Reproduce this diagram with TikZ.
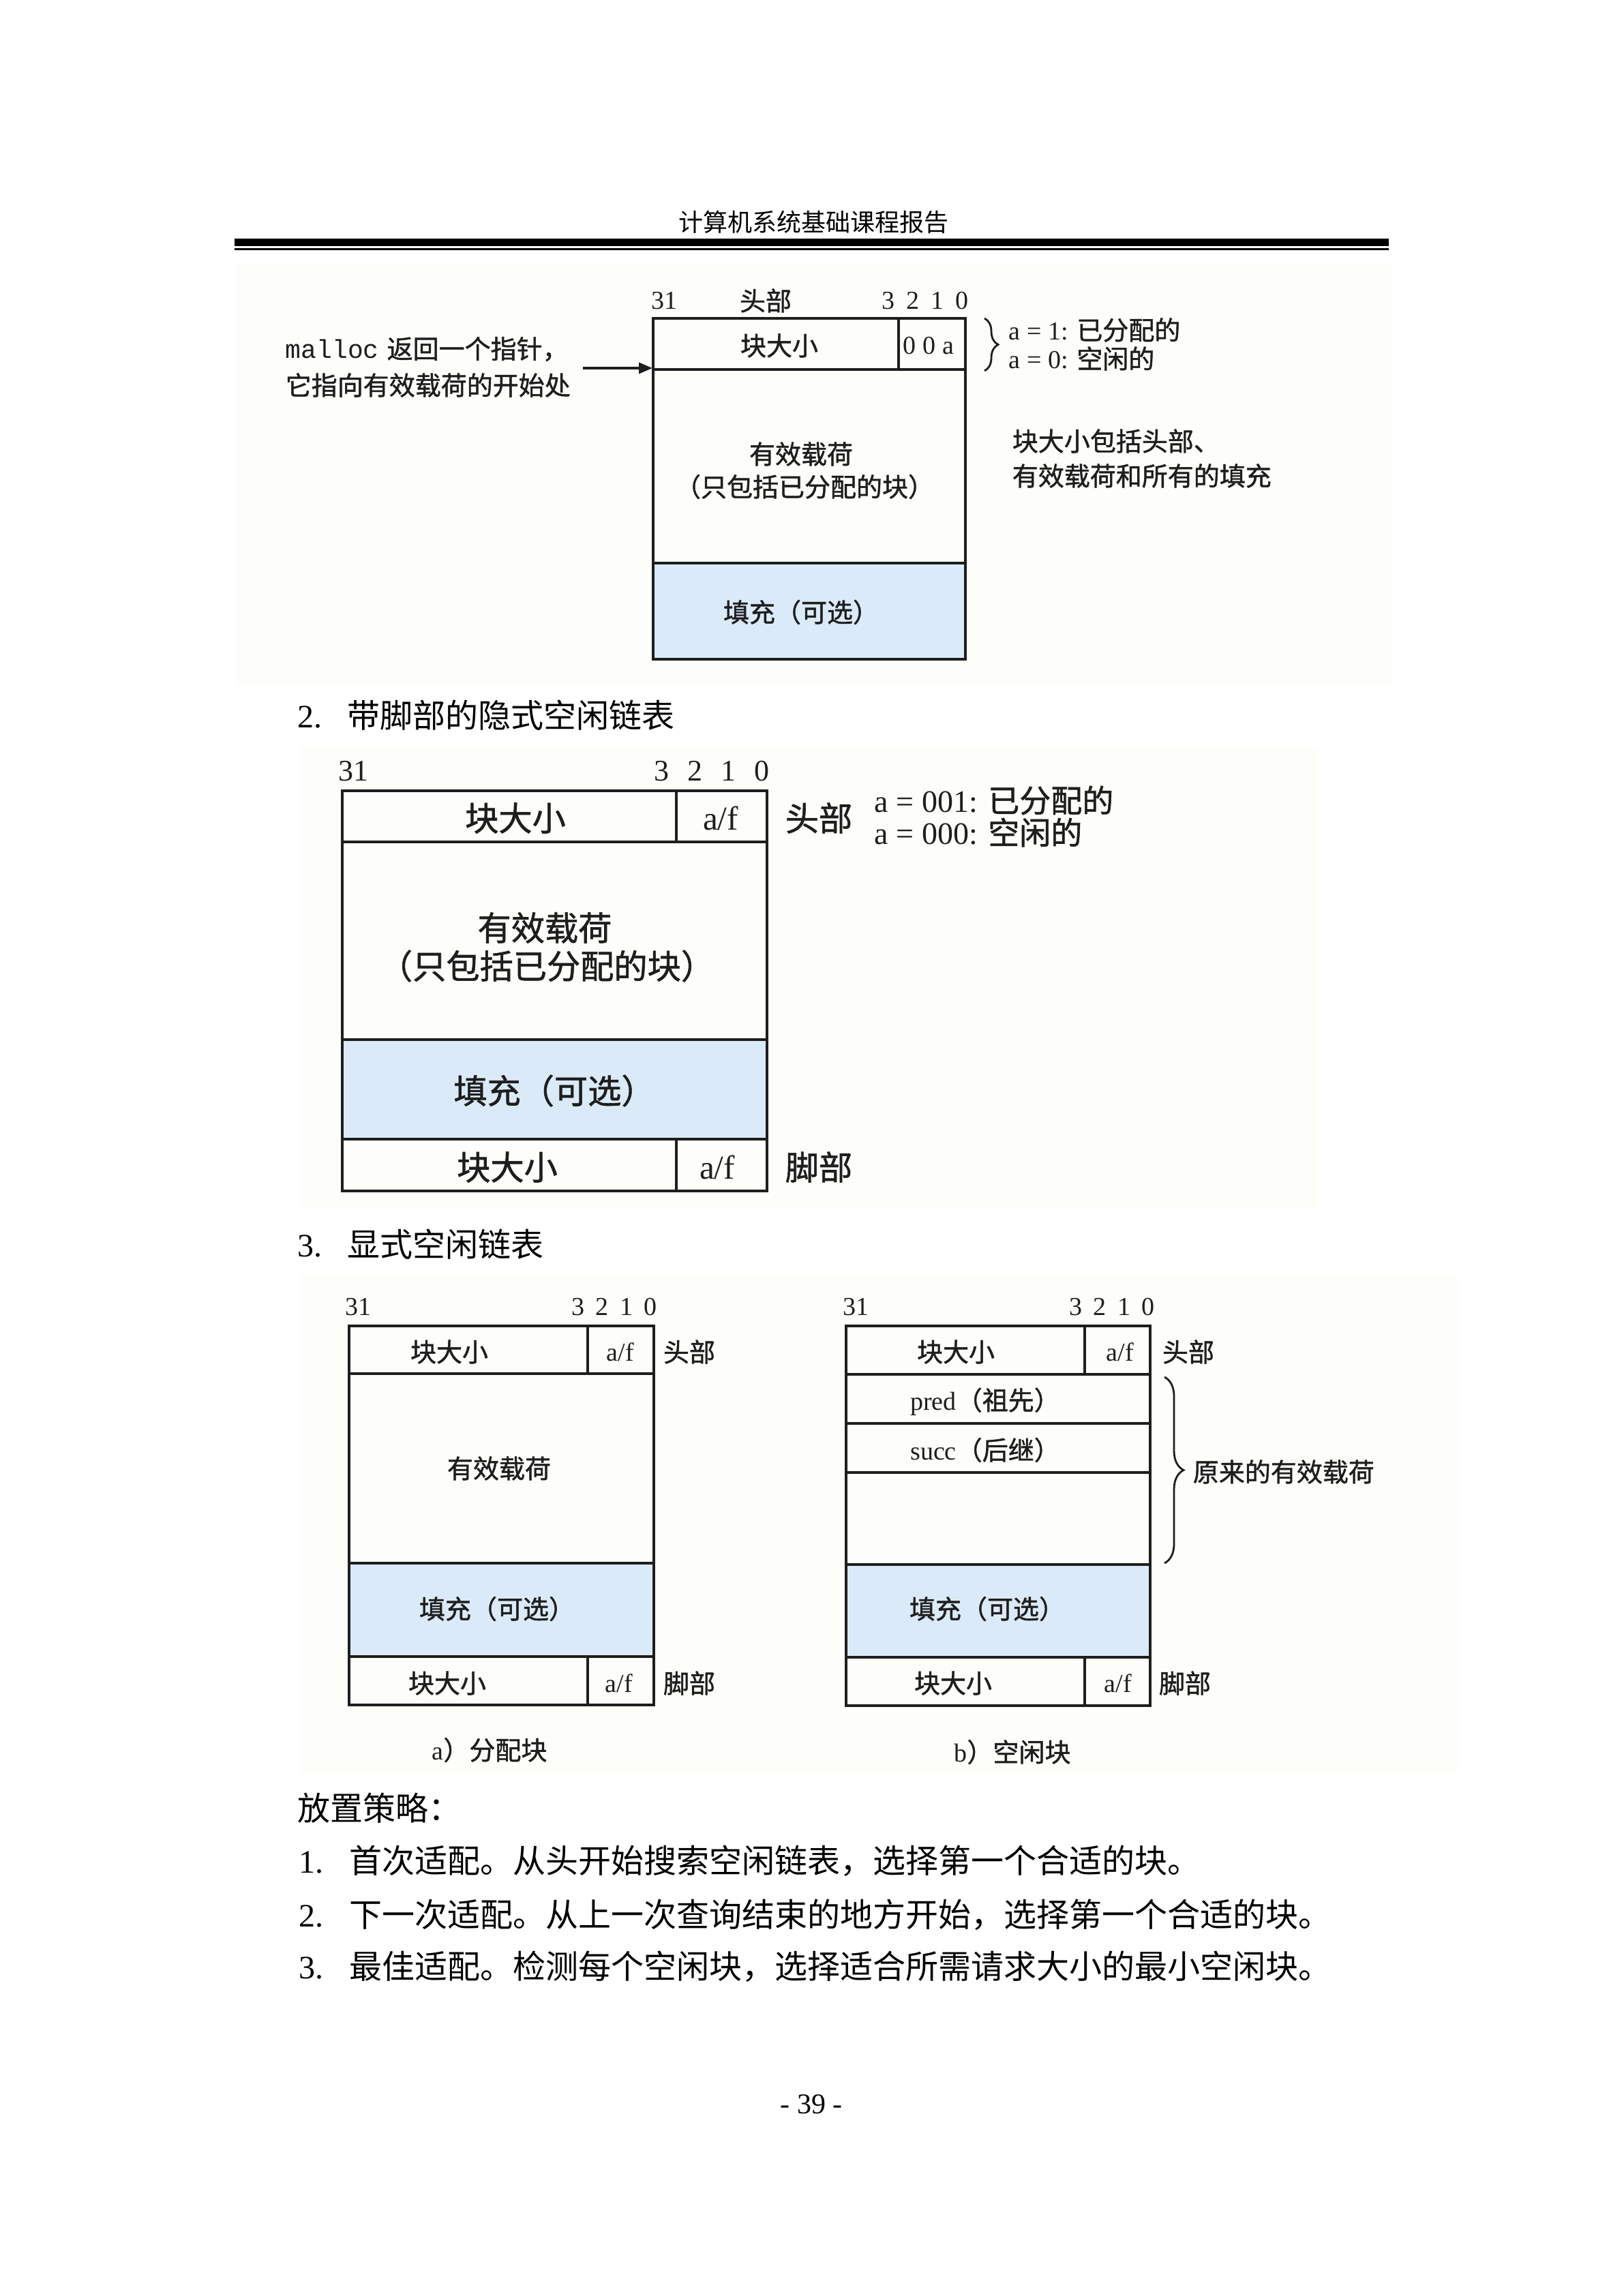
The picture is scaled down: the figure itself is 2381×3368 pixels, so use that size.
\documentclass[tikz,border=0pt]{standalone}
\usepackage{fontspec}
\setmainfont{Liberation Serif}
\newfontfamily\cjk{Noto Sans CJK SC}
\newfontfamily\cjkf[FakeBold=1.2]{Noto Sans CJK SC}
\newfontfamily\monof{Liberation Mono}
\usetikzlibrary{decorations.pathreplacing,arrows.meta}
\definecolor{padblue}{RGB}{218,234,248}
\definecolor{scanbg}{RGB}{253,253,250}
\definecolor{ink}{RGB}{30,30,30}
\newcommand\sza{\fontsize{9.5pt}{11.5pt}\selectfont}
\newcommand\szb{\fontsize{12.3pt}{14.5pt}\selectfont}
\newcommand\szbb{\fontsize{11.5pt}{13.5pt}\selectfont}
\newcommand\szc{\fontsize{12pt}{14pt}\selectfont}
\newcommand\szh{\fontsize{9pt}{11pt}\selectfont}
\newcommand\bitrow[1]{3\hspace{#1}2\hspace{#1}1\hspace{#1}0}
\begin{document}
\begin{tikzpicture}[x=0.25pt,y=-0.25pt,
  lbl/.style={inner sep=0pt, text=ink},
  la/.style={lbl, font=\sza\cjkf},
  lb/.style={lbl, font=\szb\cjkf},
  num/.style={lbl, font=\sza\rmfamily},
  numb/.style={lbl, font=\fontsize{11pt}{13pt}\selectfont\rmfamily},
  rb/.style={lbl, font=\szb\rmfamily},
  body/.style={inner sep=0pt, anchor=west, font=\szc\rmfamily, text=black},
  cell/.style={draw=ink, line width=0.9pt},
  padcell/.style={cell, fill=padblue},
  bracedeco/.style={decorate, decoration={brace, amplitude=#1}, draw=ink, line width=0.7pt},
]
\fill[white] (0,0) rectangle (2381,3368);
\useasboundingbox (0,0) rectangle (2381,3368);

% ---------- page header ----------
\node[lbl, font=\szh\cjk, text=black] (hdr) at (1193,326) {计算机系统基础课程报告};
\fill[black] (344,350) rectangle (2037,361);
\fill[black] (344,364.5) rectangle (2037,367);

% ---------- figure 1 ----------
\fill[scanbg] (344,387) rectangle (2042,1006);
\draw[padcell] (958,826) rectangle (1416,967);
\draw[cell] (958,467) rectangle (1416,542);
\draw[cell] (958,542) rectangle (1416,826);
\draw[cell] (1318,467) -- (1318,542);
\node[num] (f1b31) at (974,441) {31};
\node[la] (f1hd) at (1123,441) {头部};
\node[num] (f1bits) at (1357,441) {\bitrow{4.3pt}};
\node[la] (f1size) at (1143,507) {块大小};
\node[num] (f1oa) at (1362,507) {0\hspace{2.6pt}0\hspace{2.6pt}a};
\draw[bracedeco=5pt] (1444,467) -- (1444,544);
\node[lbl, anchor=west, font=\sza\rmfamily] (f1a1) at (1479,484) {a = 1: {\cjkf 已分配的}};
\node[lbl, anchor=west, font=\sza\rmfamily] (f1a0) at (1479,526) {a = 0: {\cjkf 空闲的}};
\node[lbl, anchor=west, font=\sza] (f1m1) at (418,512) {{\monof malloc}\hspace{3pt}{\cjkf 返回一个指针，}};
\node[la, anchor=west] (f1m2) at (418,565) {它指向有效载荷的开始处};
\coordinate (f1arrs) at (855,540);
\coordinate (f1ptr) at (957,540);
\draw[-{Triangle[length=5pt,width=4pt]}, line width=0.9pt, draw=ink] (f1arrs) -- (f1ptr);
\node[la] (f1pay) at (1175,666) {有效载荷};
\node[la] (f1pay2) at (1180,714) {（只包括已分配的块）};
\node[la, anchor=west] (f1n1) at (1484,647) {块大小包括头部、};
\node[la, anchor=west] (f1n2) at (1484,698) {有效载荷和所有的填充};
\node[la] (f1pad) at (1175,898) {填充（可选）};

% ---------- section 2 title ----------
\node[body] (t2) at (436,1049) {\makebox[18.25pt][l]{2.}{\cjk 带脚部的隐式空闲链表}};

% ---------- figure 2 ----------
\fill[scanbg] (440,1096) rectangle (1934,1773);
\draw[padcell] (502,1525) rectangle (1125,1671);
\draw[cell] (502,1160) rectangle (1125,1235);
\draw[cell] (502,1235) rectangle (1125,1525);
\draw[cell] (502,1671) rectangle (1125,1747);
\draw[cell] (992,1160) -- (992,1235);
\draw[cell] (992,1671) -- (992,1747);
\node[numb] (f2b31) at (518,1131) {31};
\node[numb] (f2bits) at (1044,1131) {\bitrow{6.7pt}};
\node[lb] (f2size) at (756,1200) {块大小};
\node[rb] (f2af) at (1057,1200) {a/f};
\node[lb] (f2hd) at (1201,1200) {头部};
\node[lbl, anchor=west, font=\szbb\rmfamily] (f2a1) at (1282,1174) {a = 001: {\cjkf 已分配的}};
\node[lbl, anchor=west, font=\szbb\rmfamily] (f2a0) at (1282,1221) {a = 000: {\cjkf 空闲的}};
\node[lb] (f2pay) at (799,1361) {有效载荷};
\node[lb] (f2pay2) at (802,1417) {（只包括已分配的块）};
\node[lb] (f2pad) at (813,1600) {填充（可选）};
\node[lb] (f2fsize) at (744,1712) {块大小};
\node[rb] (f2faf) at (1052,1712) {a/f};
\node[lb] (f2ft) at (1201,1712) {脚部};

% ---------- section 3 title ----------
\node[body] (t3) at (436,1825) {\makebox[18.25pt][l]{3.}{\cjk 显式空闲链表}};

% ---------- figure 3 ----------
\fill[scanbg] (440,1870) rectangle (2138,2600);
% a) allocated block
\draw[padcell] (512,2293) rectangle (959,2430);
\draw[cell] (512,1945) rectangle (959,2015);
\draw[cell] (512,2015) rectangle (959,2293);
\draw[cell] (512,2430) rectangle (959,2501);
\draw[cell] (862,1945) -- (862,2015);
\draw[cell] (862,2430) -- (862,2501);
\node[num] (f3ab31) at (525,1917) {31};
\node[num] (f3abits) at (901,1917) {\bitrow{4.15pt}};
\node[la] (f3asize) at (659,1983) {块大小};
\node[num] (f3aaf) at (910,1983) {a/f};
\node[la] (f3ahd) at (1011,1983) {头部};
\node[la] (f3apay) at (732,2154) {有效载荷};
\node[la] (f3apad) at (729,2360) {填充（可选）};
\node[la] (f3afsize) at (656,2469) {块大小};
\node[num] (f3afaf) at (908,2469) {a/f};
\node[la] (f3aft) at (1011,2469) {脚部};
\node[lbl, font=\sza\rmfamily] (f3acap) at (718,2567) {a{\cjkf ）分配块}};
% b) free block
\draw[padcell] (1241,2295) rectangle (1687,2431);
\draw[cell] (1241,1945) rectangle (1687,2016);
\draw[cell] (1241,2016) rectangle (1687,2088);
\draw[cell] (1241,2088) rectangle (1687,2160);
\draw[cell] (1241,2160) rectangle (1687,2295);
\draw[cell] (1241,2431) rectangle (1687,2502);
\draw[cell] (1591,1945) -- (1591,2016);
\draw[cell] (1591,2431) -- (1591,2502);
\node[num] (f3bb31) at (1255,1917) {31};
\node[num] (f3bbits) at (1631,1917) {\bitrow{4.15pt}};
\node[la] (f3bsize) at (1402,1983) {块大小};
\node[num] (f3baf) at (1643,1983) {a/f};
\node[la] (f3bhd) at (1743,1983) {头部};
\node[lbl, font=\sza\rmfamily] (f3bpred) at (1445,2056) {pred{\cjkf （祖先）}};
\node[lbl, font=\sza\rmfamily] (f3bsucc) at (1445,2127) {succ{\cjkf （后继）}};
\draw[bracedeco=7pt] (1708,2020) -- (1708,2293);
\node[la, anchor=west] (f3borig) at (1749,2159) {原来的有效载荷};
\node[la] (f3bpad) at (1448,2360) {填充（可选）};
\node[la] (f3bfsize) at (1398,2469) {块大小};
\node[num] (f3bfaf) at (1640,2469) {a/f};
\node[la] (f3bft) at (1738,2469) {脚部};
\node[lbl, font=\sza\rmfamily] (f3bcap) at (1485,2570) {b{\cjkf ）空闲块}};

% ---------- placement policies ----------
\node[body, font=\szc\cjk] (pol) at (436,2652) {放置策略：};
\node[body] (p1) at (438,2730) {\makebox[18.5pt][l]{1.}{\cjk 首次适配。从头开始搜索空闲链表，选择第一个合适的块。}};
\node[body] (p2) at (438,2809) {\makebox[18.5pt][l]{2.}{\cjk 下一次适配。从上一次查询结束的地方开始，选择第一个合适的块。}};
\node[body] (p3) at (438,2885) {\makebox[18.5pt][l]{3.}{\cjk 最佳适配。检测每个空闲块，选择适合所需请求大小的最小空闲块。}};

% ---------- page number ----------
\node[inner sep=0pt, font=\fontsize{10.5pt}{12pt}\selectfont\rmfamily] (pgno) at (1190,3087) {- 39 -};
\end{tikzpicture}
\end{document}
